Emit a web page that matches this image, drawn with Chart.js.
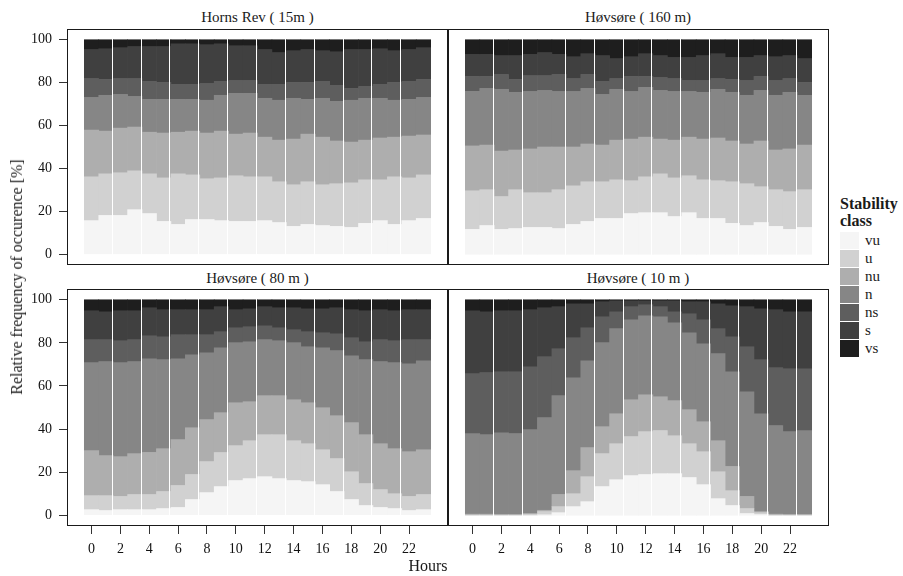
<!DOCTYPE html>
<html><head><meta charset="utf-8">
<script src="https://cdn.jsdelivr.net/npm/chart.js@4.4.1/dist/chart.umd.min.js"></script>
<style>
html,body{margin:0;padding:0;background:#fff;}
#wrap{position:relative;width:903px;height:576px;font-family:"Liberation Serif","Times New Roman",serif;color:#1a1a1a;overflow:hidden;}
canvas{position:absolute;}
.txt{position:absolute;white-space:nowrap;line-height:18px;height:18px;transform:translateX(-50%);}
.strip{font-size:15px;}
#ytitle{position:absolute;left:17px;top:277px;font-size:16px;white-space:nowrap;transform:translate(-50%,-50%) rotate(-90deg);}
#xtitle{font-size:16px;}
#legend{position:absolute;left:840px;top:196px;}
#legend .ttl{font-weight:bold;font-size:16px;line-height:16.6px;}
#legend .row{position:relative;height:18px;}
#legend .key{position:absolute;left:0;top:0;width:19px;height:17px;border-bottom:1px solid #fff;}
#legend .lab{position:absolute;left:25px;top:0;line-height:17px;font-size:15px;}
</style></head>
<body><div id="wrap">
<canvas id="c0" width="448" height="236" style="left:0;top:29px;width:448px;height:236px"></canvas>
<canvas id="c1" width="381" height="236" style="left:448px;top:29px;width:381px;height:236px"></canvas>
<canvas id="c2" width="448" height="287" style="left:0;top:289px;width:448px;height:287px"></canvas>
<canvas id="c3" width="381" height="287" style="left:448px;top:289px;width:381px;height:287px"></canvas>
<div class="txt strip" style="left:257.5px;top:8px">Horns Rev ( 15m )</div>
<div class="txt strip" style="left:638px;top:8px">Høvsøre ( 160 m)</div>
<div class="txt strip" style="left:257.5px;top:269px">Høvsøre ( 80 m )</div>
<div class="txt strip" style="left:638px;top:269px">Høvsøre ( 10 m )</div>
<div id="ytitle">Relative frequency of occurence [%]</div>
<div class="txt" id="xtitle" style="left:428px;top:557px">Hours</div>
<div id="legend"><div class="ttl">Stability<br>class</div><div id="keys" style="margin-top:3px"></div></div>
</div>
<script>
const hours = [0,1,2,3,4,5,6,7,8,9,10,11,12,13,14,15,16,17,18,19,20,21,22,23];
const xTickValues = [0,2,4,6,8,10,12,14,16,18,20,22];
const yTickValues = [0,20,40,60,80,100];
const classes = ['vu','u','nu','n','ns','s','vs'];
const classColors = ['#f5f5f5','#d1d1d1','#aeaeae','#868686','#5e5e5e','#404040','#1e1e1e'];

// Horns Rev (15 m)
const hr15_vu = [15.7,18.1,18.1,20.8,19.0,15.3,13.9,16.2,16.2,15.7,15.3,15.3,15.7,14.8,13.0,13.9,13.4,13.0,12.5,14.4,15.7,13.9,15.7,16.7];
const hr15_u  = [20.4,19.4,19.9,18.1,18.5,20.3,23.6,20.8,19.0,19.9,21.3,20.8,20.4,19.0,19.4,19.9,19.0,19.9,20.8,20.3,19.0,22.2,19.9,20.3];
const hr15_nu = [21.8,19.9,20.8,20.4,19.4,20.9,19.4,20.4,21.3,21.8,19.4,20.4,18.5,19.4,21.3,22.2,22.2,19.9,19.0,18.5,19.5,18.5,19.5,18.6];
const hr15_n  = [15.2,16.7,15.7,14.3,15.3,15.7,15.3,14.8,15.3,16.7,19.0,18.5,18.1,18.6,19.0,16.2,18.1,18.5,19.5,19.5,18.5,17.2,17.1,17.5];
const hr15_ns = [8.8,7.4,7.4,8.3,8.4,7.9,7.0,7.0,7.8,6.5,6.0,6.0,6.5,7.4,7.4,7.9,7.9,7.4,5.5,5.5,6.5,8.3,8.4,8.4];
const hr15_s  = [13.5,14.3,14.4,14.9,16.2,16.7,18.9,18.9,18.1,17.5,16.2,16.2,16.2,14.8,14.8,15.3,14.3,15.7,18.1,17.2,16.6,14.8,14.8,14.8];
const hr15_vs = [4.6,4.2,3.7,3.2,3.2,3.2,1.9,1.9,2.3,1.9,2.8,2.8,4.6,6.0,5.1,4.6,5.1,5.6,4.6,4.6,4.2,5.1,4.6,3.7];

// Høvsøre (160 m)
const hv160_vu = [11.6,13.4,11.6,12.0,12.5,12.5,12.0,13.9,15.3,16.7,16.7,19.0,19.4,19.4,17.6,19.4,16.7,16.7,14.4,13.4,14.8,13.0,11.6,12.5];
const hv160_u  = [18.0,16.7,15.3,18.1,16.2,16.2,18.1,18.0,18.5,17.1,18.0,15.3,16.7,18.1,18.0,17.2,18.0,17.6,19.4,19.5,16.7,17.1,17.6,17.6];
const hv160_nu = [20.9,20.8,21.2,18.5,20.4,21.3,19.9,18.1,17.6,17.1,18.5,19.4,18.5,16.2,17.6,18.0,19.0,19.9,19.0,18.5,21.3,18.5,19.9,20.8];
const hv160_n  = [25.4,26.4,28.8,26.9,26.8,26.4,25.9,25.9,25.9,23.6,23.7,22.2,23.2,22.7,22.7,21.3,21.8,22.7,22.7,22.7,23.6,25.5,26.4,23.2];
const hv160_ns = [7.0,5.6,6.9,6.0,7.4,6.9,7.9,6.0,6.5,6.1,5.0,7.0,5.1,6.0,6.0,5.1,5.5,5.0,6.0,6.9,6.5,6.9,6.4,6.0];
const hv160_s  = [10.2,10.2,8.8,11.1,9.8,10.7,9.3,10.2,9.7,12.0,9.3,9.2,10.6,10.2,9.8,10.7,11.6,11.6,10.2,10.7,9.7,11.1,10.7,11.1];
const hv160_vs = [6.9,6.9,7.4,7.4,6.9,6.0,6.9,7.9,6.5,7.4,8.8,7.9,6.5,7.4,8.3,8.3,7.4,6.5,8.3,8.3,7.4,7.9,7.4,8.8];

// Høvsøre (80 m)
const hv80_vu = [2.6,2.2,2.6,2.6,2.6,3.1,3.6,7.3,10.5,13.3,16.1,17.0,17.9,17.0,16.1,15.6,14.2,11.0,7.3,4.5,3.6,3.1,2.2,2.6];
const hv80_u  = [6.5,6.9,6.1,7.0,7.0,7.9,10.2,11.6,14.4,15.8,16.2,17.6,19.5,20.4,18.5,17.6,16.2,15.3,12.9,10.2,8.3,6.9,6.5,7.0];
const hv80_nu = [20.9,18.6,18.5,19.0,19.5,19.9,21.3,21.7,19.5,18.5,19.9,18.1,18.1,18.1,19.0,19.0,19.5,19.9,22.8,22.7,21.3,20.9,20.8,20.8];
const hv80_n  = [40.8,43.6,43.6,42.7,43.5,41.3,37.5,33.9,31.0,30.1,27.9,27.8,26.0,25.5,26.5,26.0,27.8,30.2,31.0,34.8,38.1,39.9,40.8,41.3];
const hv80_ns = [10.7,10.2,10.2,10.2,10.7,10.6,11.2,9.3,8.4,7.5,6.9,7.0,6.4,6.0,6.0,7.0,7.0,7.8,8.4,8.3,10.2,10.2,11.2,9.8];
const hv80_s  = [13.4,12.9,13.9,13.4,13.0,12.6,11.6,11.6,11.6,11.6,8.4,8.3,8.9,9.3,10.2,10.6,11.1,12.1,13.0,14.4,13.9,13.9,13.9,13.9];
const hv80_vs = [5.1,5.6,5.1,5.1,3.7,4.6,4.6,4.6,4.6,3.2,4.6,4.2,3.2,3.7,3.7,4.2,4.2,3.7,4.6,5.1,4.6,5.1,4.6,4.6];

// Høvsøre (10 m)
const hv10_vu = [0,0,0,0,0,0.2,1.2,4.0,6.3,13.3,16.5,18.4,18.9,19.3,19.3,17.5,14.2,7.7,4.5,0.8,0.3,0,0,0];
const hv10_u  = [0,0,0,0,0.3,1.5,2.8,6.0,11.6,15.3,16.7,18.1,19.9,20.0,17.6,15.7,15.3,12.5,6.9,2.3,0.9,0,0,0];
const hv10_nu = [0.5,0.5,0.3,0.3,0.5,0.6,5.6,10.7,13.5,12.5,13.9,17.1,17.1,15.7,16.3,15.8,13.9,14.4,11.2,5.6,0.5,0.5,0.3,0.3];
const hv10_n  = [37.4,36.9,38.0,37.6,38.9,43.0,45.9,43.1,40.3,39.0,39.5,37.1,36.7,37.1,36.1,35.7,36.2,40.4,44.0,48.6,45.4,41.1,38.5,39.0];
const hv10_ns = [27.8,28.8,28.3,28.7,29.2,28.3,21.8,18.6,15.3,12.0,7.8,6.1,5.1,4.7,5.1,8.8,11.1,11.6,16.2,20.9,25.1,26.9,29.2,28.7];
const hv10_s  = [29.2,28.2,28.3,28.3,26.5,22.7,19.5,15.7,11.1,7.0,5.1,2.7,1.8,2.7,5.1,5.6,8.4,11.5,14.4,18.6,23.6,26.9,26.4,26.4];
const hv10_vs = [5.1,5.6,5.1,5.1,4.6,3.7,3.2,1.9,1.9,0.9,0.5,0.5,0.5,0.5,0.5,0.9,0.9,1.9,2.8,3.2,4.2,4.6,5.6,5.6];

// white seams visible between bar groups (hour boundaries)
const leftSeams = [2,4,6,8,10,12,14,16,18,20,22];
const rightSeams = [2,4,7,9,11,13,15,17,19,21,23];

const panels = [
  {id:'c0', series:[hr15_vu,hr15_u,hr15_nu,hr15_n,hr15_ns,hr15_s,hr15_vs], showX:false, showY:true, seams:leftSeams},
  {id:'c1', series:[hv160_vu,hv160_u,hv160_nu,hv160_n,hv160_ns,hv160_s,hv160_vs], showX:false, showY:false, seams:rightSeams},
  {id:'c2', series:[hv80_vu,hv80_u,hv80_nu,hv80_n,hv80_ns,hv80_s,hv80_vs], showX:true, showY:true, seams:leftSeams},
  {id:'c3', series:[hv10_vu,hv10_u,hv10_nu,hv10_n,hv10_ns,hv10_s,hv10_vs], showX:true, showY:false, seams:rightSeams}
];

const panelDecor = {
  id: 'panelDecor',
  afterDatasetsDraw(chart, args, opts) {
    const {ctx, chartArea: a, scales: {x, y}} = chart;
    ctx.save();
    ctx.strokeStyle = '#ffffff';
    ctx.lineWidth = 1;
    const yt = y.getPixelForValue(100), yb = y.getPixelForValue(0);
    (opts.seams || []).forEach(b => {
      const px = Math.floor(x.getPixelForValue(b - 0.5)) - 0.5;
      ctx.beginPath(); ctx.moveTo(px, yt - 1); ctx.lineTo(px, yb + 1); ctx.stroke();
    });
    ctx.strokeStyle = '#1a1a1a';
    ctx.lineWidth = 1;
    ctx.strokeRect(a.left + 0.5, a.top + 0.5, a.width - 1, a.height - 1);
    ctx.restore();
  }
};

const tickFont = {family: '"Liberation Serif", "Times New Roman", serif', size: 14};

function build() {
  panels.forEach(p => {
    const datasets = classes.map((c, k) => ({
      label: c,
      data: hours.map((h, i) => ({x: h, y: p.series[k][i]})),
      backgroundColor: classColors[k],
      borderWidth: 0,
      barPercentage: 1,
      categoryPercentage: 1,
      stack: 'all'
    }));
    const xScale = {
      type: 'linear', min: -1.7, max: 24.7, offset: false, stacked: true, display: p.showX,
      afterBuildTicks: s => { s.ticks = xTickValues.map(v => ({value: v})); },
      grid: {offset: false, drawOnChartArea: false, drawTicks: true, tickLength: 8, color: '#333', lineWidth: 1},
      border: {display: false},
      ticks: {color: '#111', font: tickFont, padding: 7, maxRotation: 0, autoSkip: false, callback: v => String(v)}
    };
    if (p.showX) xScale.afterFit = s => { s.height = 50; s.paddingLeft = 0; s.paddingRight = 0; };
    const yScale = {
      type: 'linear', min: -5, max: 105, stacked: true, display: p.showY,
      afterBuildTicks: s => { s.ticks = yTickValues.map(v => ({value: v})); },
      grid: {offset: false, drawOnChartArea: false, drawTicks: true, tickLength: 8, color: '#333', lineWidth: 1},
      border: {display: false},
      ticks: {color: '#111', font: tickFont, padding: 7, callback: v => String(v)}
    };
    if (p.showY) yScale.afterFit = s => { s.width = 67; s.paddingTop = 0; s.paddingBottom = 0; };
    new Chart(document.getElementById(p.id), {
      type: 'bar',
      data: {datasets},
      options: {
        responsive: false, animation: false, devicePixelRatio: 1,
        layout: {padding: 0},
        plugins: {legend: {display: false}, tooltip: {enabled: false}, panelDecor: {seams: p.seams}},
        scales: {x: xScale, y: yScale}
      },
      plugins: [panelDecor]
    });
  });

  const keys = document.getElementById('keys');
  classes.forEach((c, k) => {
    const row = document.createElement('div');
    row.className = 'row';
    row.innerHTML = '<div class="key" style="background:' + classColors[k] + '"></div><div class="lab">' + c + '</div>';
    keys.appendChild(row);
  });
}

Chart.defaults.font.family = tickFont.family;
if (document.fonts && document.fonts.load) {
  Promise.all([document.fonts.load('14px "Liberation Serif"'), document.fonts.load('bold 16px "Liberation Serif"')])
    .then(build, build);
} else {
  build();
}
</script>
</body></html>
